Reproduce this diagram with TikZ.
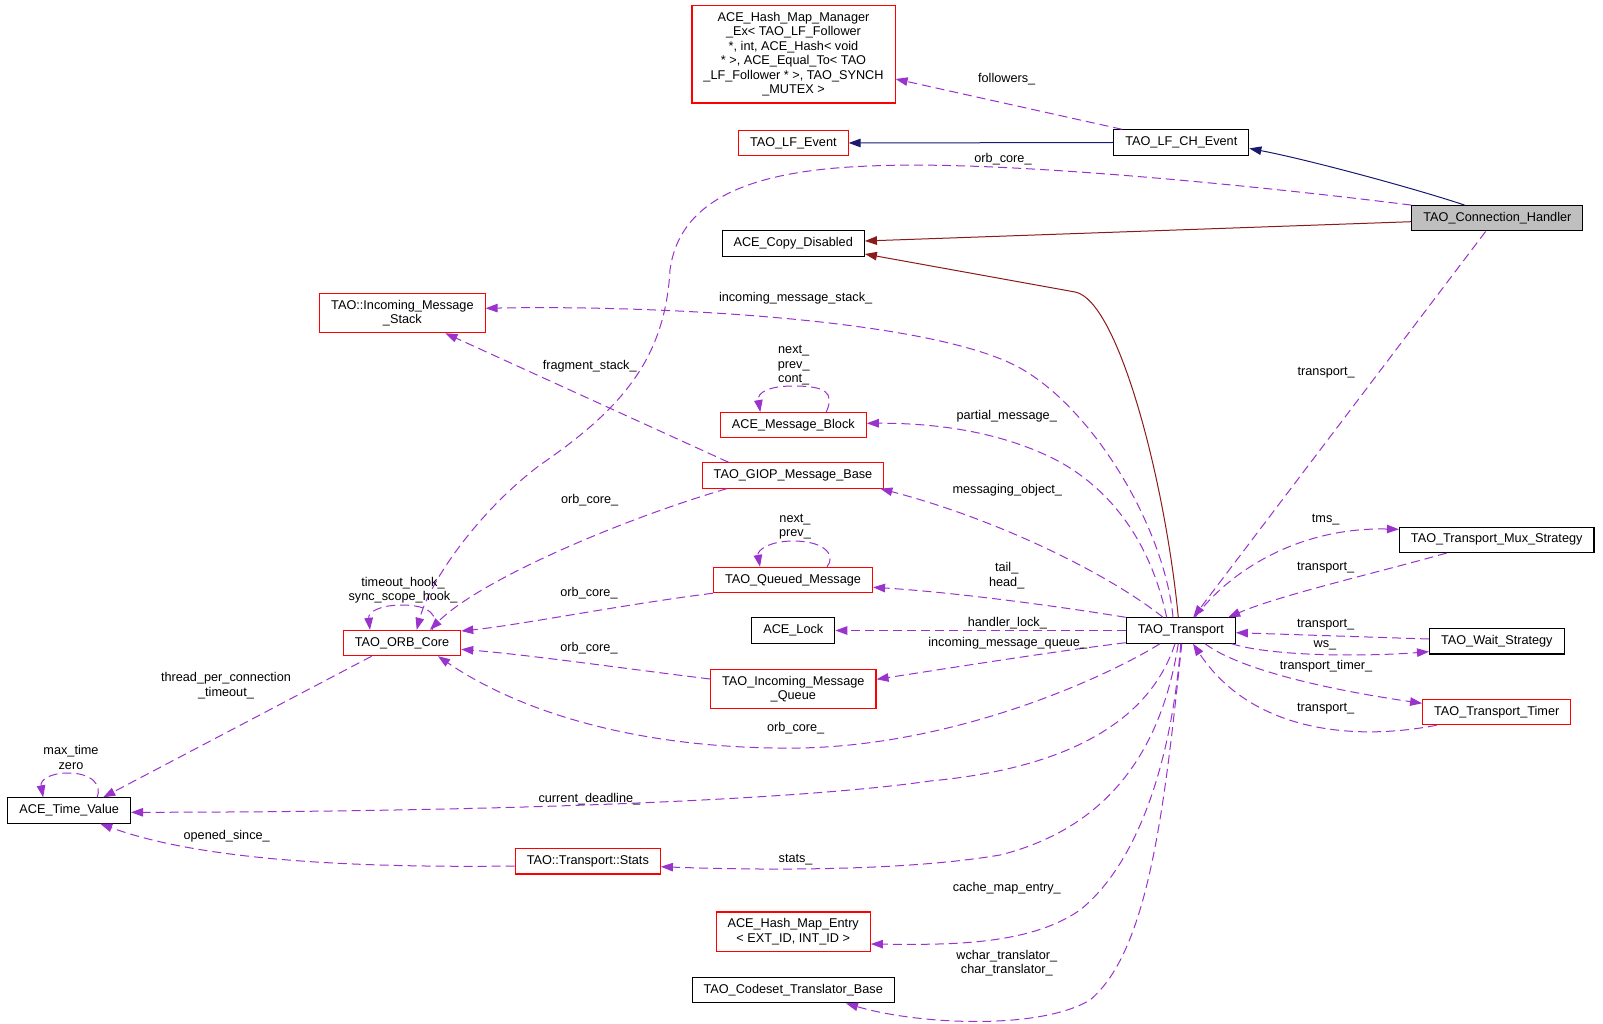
\documentclass[tikz,border=0pt]{standalone}
\usepackage{fontspec}
\setmainfont{Liberation Sans}
\usetikzlibrary{arrows.meta}
\definecolor{orchid}{HTML}{9A32CD}
\definecolor{navy}{HTML}{191970}
\definecolor{brick}{HTML}{8B1A1A}
\definecolor{boxgray}{HTML}{BFBFBF}
\tikzset{
  cls/.style={draw, line width=1.1pt, fill=white, align=center,
    inner xsep=11.5pt, inner ysep=6.6pt, minimum height=25.3pt},
  redcls/.style={cls, draw=red},
  lbl/.style={align=center, inner sep=0pt},
  tip/.style={-{Triangle[length=12pt,width=8.5pt]}},
  use/.style={tip, draw=orchid, line width=1pt, dash pattern=on 9pt off 5pt},
  inherit/.style={tip, draw=navy, line width=1pt},
  privinh/.style={tip, draw=brick, line width=1pt},
}

\begin{document}
\begin{tikzpicture}[x=1pt, y=-1pt, font=\fontsize{12.7}{14.5}\selectfont]
    \useasboundingbox [fill=white] (0,0) rectangle (1603,1024);

    % classes
    \node [redcls] (hmm) at (793.5,54.3) {ACE\_Hash\_Map\_Manager\\\_Ex< TAO\_LF\_Follower\\{}*, int, ACE\_Hash< void\\{}* >, ACE\_Equal\_To< TAO\\\_LF\_Follower * >, TAO\_SYNCH\\\_MUTEX >};
    \node [redcls] (lfev) at (793.3,143) {TAO\_LF\_Event};
    \node [cls] (lfch) at (1181.3,142.5) {TAO\_LF\_CH\_Event};
    \node [cls, fill=boxgray] (tch) at (1497.4,218.3) {TAO\_Connection\_Handler};
    \node [cls] (acd) at (793.2,243.5) {ACE\_Copy\_Disabled};
    \node [redcls] (ims) at (402.4,313) {TAO::Incoming\_Message\\\_Stack};
    \node [redcls] (amb) at (793.3,425.2) {ACE\_Message\_Block};
    \node [redcls] (giop) at (793,475.5) {TAO\_GIOP\_Message\_Base};
    \node [cls] (tms) at (1496.7,539.8) {TAO\_Transport\_Mux\_Strategy};
    \node [redcls] (tqm) at (793,580) {TAO\_Queued\_Message};
    \node [cls] (lock) at (793.3,630.5) {ACE\_Lock};
    \node [cls] (tr) at (1180.8,630.5) {TAO\_Transport};
    \node [cls] (tws) at (1496.8,641.3) {TAO\_Wait\_Strategy};
    \node [redcls] (orb) at (402,643) {TAO\_ORB\_Core};
    \node [redcls] (imq) at (793.3,689.2) {TAO\_Incoming\_Message\\\_Queue};
    \node [redcls] (ttt) at (1496.7,712) {TAO\_Transport\_Timer};
    \node [cls] (atv) at (69.2,810.5) {ACE\_Time\_Value};
    \node [redcls] (stats) at (587.8,861.3) {TAO::Transport::Stats};
    \node [redcls] (hme) at (793.2,931.7) {ACE\_Hash\_Map\_Entry\\< EXT\_ID, INT\_ID >};
    \node [cls] (ctb) at (793.2,990.2) {TAO\_Codeset\_Translator\_Base};

    % inheritance
    \draw [inherit] (lfch.west) -- (lfev.east);
    \draw [inherit] ([xshift=-32.9pt]tch.north) .. controls (1420,190) and (1310,160) .. (lfch.-5.6);
    \draw [privinh] ([yshift=-3.4pt]tch.west) -- ([yshift=2.5pt]acd.east);
    \draw [privinh] ([xshift=-2.5pt]tr.north) .. controls (1165,480) and (1118,300) .. (1075,292) -- ([yshift=-10.5pt]acd.east);

    % members, upper part
    \draw [use] ([xshift=-59.3pt]lfch.north) -- ([yshift=-24.7pt]hmm.east);
    \draw [use] (tch.north west) .. controls (1250,185) and (1000,160) .. (870,166)
        .. controls (760,170) and (680,195) .. (670,270)
        .. controls (665,360) and (620,410) .. (540,465)
        .. controls (480,510) and (430,580) .. ([xshift=14.7pt]orb.north);
    \draw [use] ([xshift=-11.8pt]tch.south) -- ([xshift=12.5pt]tr.north);
    \draw [use] ([xshift=-7.8pt]tr.north) .. controls (1165,530) and (1095,410) .. (1020,368)
        .. controls (930,318) and (650,305) .. ([yshift=4.7pt]ims.east);
    \draw [use] ([xshift=-64.4pt]giop.north) -- ([xshift=43pt]ims.south);
    \draw [use] ([xshift=-14.1pt]tr.north) .. controls (1150,540) and (1110,490) .. (1060,462)
        .. controls (1000,430) and (930,423) .. ([yshift=1.9pt]amb.east);
    \draw [use] ([xshift=-17.8pt]tr.north) .. controls (1110,575) and (1000,520) .. ([xshift=-4pt]giop.south east);
    \draw [use] (tr.north west) .. controls (1050,605) and (950,592) .. ([yshift=-7.3pt]tqm.east);
    \draw [use] (tr.west) -- (lock.east);
    \draw [use] ([yshift=1pt]tr.south west) .. controls (1050,652) and (950,668) .. ([yshift=9.9pt]imq.east);

    % members, lower part
    \draw [use] ([xshift=-20.8pt]tr.south) .. controls (1110,675) and (960,745) .. (800,748)
        .. controls (640,750) and (520,712) .. ([xshift=36pt]orb.south);
    \draw [use] ([xshift=-5.8pt]tr.south) .. controls (1150,720) and (1070,768) .. (930,781)
        .. controls (800,800) and (500,812) .. ([yshift=-1.8pt]atv.east);
    \draw [use] ([xshift=-2.5pt]tr.south) .. controls (1160,760) and (1100,830) .. (1000,855)
        .. controls (900,872) and (750,870) .. ([yshift=-5.4pt]stats.east);
    \draw [use] (tr.south) .. controls (1170,780) and (1130,870) .. (1080,910)
        .. controls (1030,945) and (950,945) .. ([yshift=-12.3pt]hme.east);
    \draw [use] ([xshift=1pt]tr.south) .. controls (1165,800) and (1150,950) .. (1090,1000)
        .. controls (1040,1030) and (920,1025) .. ([xshift=52.8pt]ctb.south);

    % members, right side
    \draw [use] ([xshift=14.2pt]tr.north) .. controls (1230,570) and (1300,527) .. ([yshift=10.5pt]tms.west);
    \draw [use] ([xshift=-50pt]tms.south) .. controls (1380,572) and (1280,595) .. ([xshift=-7.7pt]tr.north east);
    \draw [use] ([yshift=2.3pt]tws.west) -- ([yshift=-2.2pt]tr.east);
    \draw [use] ([xshift=-4.3pt]tr.south east) .. controls (1270,656) and (1360,657) .. ([yshift=-10.4pt]tws.west);
    \draw [use] ([xshift=24.2pt]tr.south) .. controls (1240,670) and (1330,690) .. ([yshift=8.7pt]ttt.west);
    \draw [use] ([xshift=-60pt]ttt.south) .. controls (1350,742) and (1250,730) .. ([xshift=12.2pt]tr.south);

    % members, left side
    \draw [use] ([xshift=-66.3pt]giop.south) .. controls (620,520) and (480,580) .. ([xshift=28pt]orb.north);
    \draw [use] (tqm.south west) .. controls (620,605) and (520,625) .. ([yshift=12pt]orb.east);
    \draw [use] ([yshift=10.2pt]imq.west) .. controls (620,668) and (530,655) .. ([yshift=-6.3pt]orb.east);
    \draw [use] ([xshift=-30.3pt]orb.south) -- ([xshift=34pt]atv.north);
    \draw [use] ([yshift=-4.7pt]stats.west) .. controls (350,868) and (200,860) .. ([xshift=31pt]atv.south);

    % self references
    \draw [use] ([xshift=33pt]amb.north) .. controls (835,392) and (825,386) .. (793,386)
        .. controls (770,386) and (757,392) .. ([xshift=-33pt]amb.north);
    \draw [use] ([xshift=34pt]tqm.north) .. controls (836,556) and (826,541) .. (793,541)
        .. controls (770,541) and (757,550) .. ([xshift=-33pt]tqm.north);
    \draw [use] ([xshift=30pt]orb.north) .. controls (440,616) and (430,605) .. (402,605)
        .. controls (380,605) and (368,612) .. ([xshift=-32pt]orb.north);
    \draw [use] ([xshift=28pt]atv.north) .. controls (102,785) and (92,773) .. (68,773)
        .. controls (50,773) and (40,780) .. ([xshift=-26pt]atv.north);

    % add labels
    \node [lbl] (l-followers) at (1006.7,79) {followers\_};
    \node [lbl] (l-orbtop) at (1003,159.5) {orb\_core\_};
    \node [lbl] (l-imstack) at (795.6,298.7) {incoming\_message\_stack\_};
    \node [lbl] (l-fragment) at (589.7,366.7) {fragment\_stack\_};
    \node [lbl] (l-amb) at (793.7,365.3) {next\_\\prev\_\\cont\_};
    \node [lbl] (l-tch) at (1326.2,372.3) {transport\_};
    \node [lbl] (l-partial) at (1006.7,416.7) {partial\_message\_};
    \node [lbl] (l-messaging) at (1007.3,490.7) {messaging\_object\_};
    \node [lbl] (l-orbgiop) at (589.7,500) {orb\_core\_};
    \node [lbl] (l-tqm) at (795,526.8) {next\_\\prev\_};
    \node [lbl] (l-tms) at (1325.7,520) {tms\_};
    \node [lbl] (l-muxtr) at (1325.7,567.7) {transport\_};
    \node [lbl] (l-tailhead) at (1006.7,575.8) {tail\_\\head\_};
    \node [lbl] (l-orbloop) at (403,590) {timeout\_hook\_\\sync\_scope\_hook\_};
    \node [lbl] (l-orbtqm) at (589,593) {orb\_core\_};
    \node [lbl] (l-lock) at (1007.3,622.7) {handler\_lock\_};
    \node [lbl] (l-waittr) at (1325.7,624.3) {transport\_};
    \node [lbl] (l-imqueue) at (1007.7,643.3) {incoming\_message\_queue\_};
    \node [lbl] (l-ws) at (1325,645) {ws\_};
    \node [lbl] (l-orbimq) at (589,648) {orb\_core\_};
    \node [lbl] (l-timer) at (1326,666.7) {transport\_timer\_};
    \node [lbl] (l-thread) at (226,685.7) {thread\_per\_connection\\\_timeout\_};
    \node [lbl] (l-timertr) at (1325.7,708.3) {transport\_};
    \node [lbl] (l-orblow) at (795.7,728.3) {orb\_core\_};
    \node [lbl] (l-atv) at (71,757.7) {max\_time\\zero};
    \node [lbl] (l-deadline) at (589.4,799) {current\_deadline\_};
    \node [lbl] (l-opened) at (226.7,836) {opened\_since\_};
    \node [lbl] (l-stats) at (795.6,859.3) {stats\_};
    \node [lbl] (l-cache) at (1006.8,888.3) {cache\_map\_entry\_};
    \node [lbl] (l-transl) at (1006.8,963.2) {wchar\_translator\_\\char\_translator\_};
\end{tikzpicture}
\end{document}
